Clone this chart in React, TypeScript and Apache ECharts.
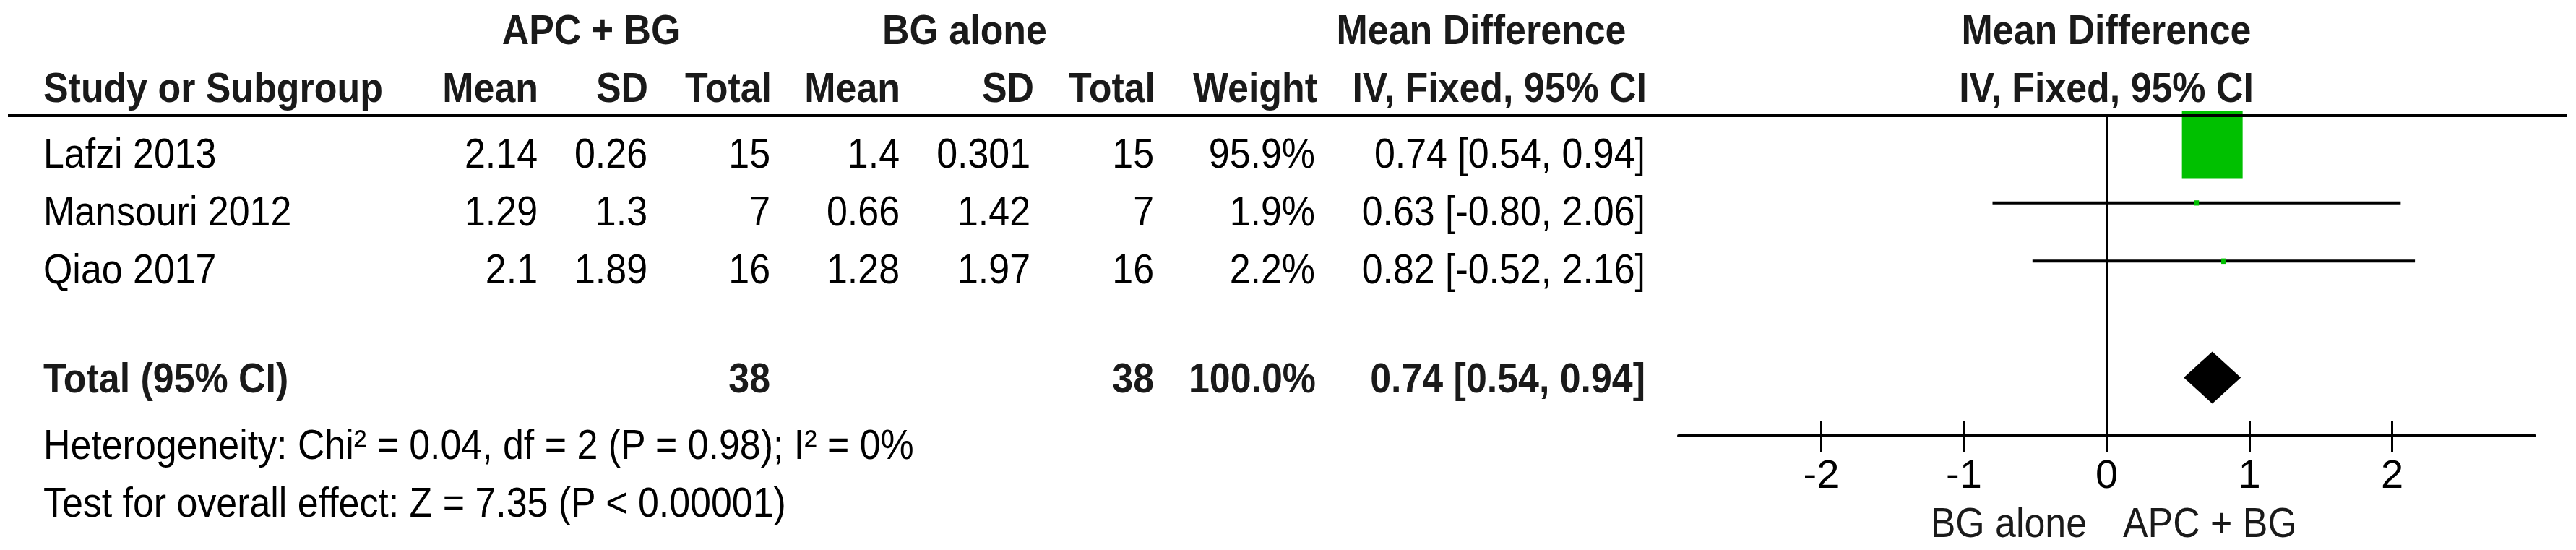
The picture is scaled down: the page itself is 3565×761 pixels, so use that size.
import React, { useEffect, useRef } from "react";
import * as echarts from "echarts";

// ---- data ----
const studies = ["Lafzi 2013", "Mansouri 2012", "Qiao 2017"];
const expMean = [2.14, 1.29, 2.1];
const expSD = [0.26, 1.3, 1.89];
const expTotal = [15, 7, 16];
const ctrlMean = [1.4, 0.66, 1.28];
const ctrlSD = [0.301, 1.42, 1.97];
const ctrlTotal = [15, 7, 16];
const weights = [95.9, 1.9, 2.2];
const meanDiff = [0.74, 0.63, 0.82];
const ciLow = [0.54, -0.8, -0.52];
const ciHigh = [0.94, 2.06, 2.16];

const totalLabel = "Total (95% CI)";
const totalExp = 38;
const totalCtrl = 38;
const totalWeight = 100.0;
const totalMD = 0.74;
const totalLow = 0.54;
const totalHigh = 0.94;

const heterogeneityText = "Heterogeneity: Chi\u00b2 = 0.04, df = 2 (P = 0.98); I\u00b2 = 0%";
const overallText = "Test for overall effect: Z = 7.35 (P < 0.00001)";

const groupHeaders = ["APC + BG", "BG alone", "Mean Difference", "Mean Difference"];
const colHeaders = ["Study or Subgroup", "Mean", "SD", "Total", "Mean", "SD", "Total", "Weight", "IV, Fixed, 95% CI", "IV, Fixed, 95% CI"];
const xTicks = [-2, -1, 0, 1, 2];
const favoursLeft = "BG alone";
const favoursRight = "APC + BG";

// ---- layout ----
const FONT = "'Liberation Sans', Arial, sans-serif";
const FS = 58;
const SX = 0.895;
const GRID_LEFT = 2323;
const GRID_WIDTH = 1185;
const GRID_TOP = 160;
const GRID_HEIGHT = 443;
const Y_MAX = 5.5;

const fmtCI = (m: number, lo: number, hi: number) => `${m.toFixed(2)} [${lo.toFixed(2)}, ${hi.toFixed(2)}]`;

function txt(text: string, x: number, y: number, align: string, bold = false, color = "#000") {
  return {
    type: "text",
    x,
    y,
    scaleX: SX,
    silent: true,
    style: {
      text,
      fontSize: FS,
      fontFamily: FONT,
      fontWeight: bold ? "bold" : "normal",
      fill: color,
      align,
      textAlign: align,
      verticalAlign: "middle",
      textVerticalAlign: "middle",
    },
  };
}

export default function App() {
  const ref = useRef<HTMLDivElement>(null);

  useEffect(() => {
    if (!ref.current) return;
    const chart = echarts.init(ref.current, undefined, { renderer: "svg" });

    const HC = "#1a1a1a";
    const g: any[] = [];
    // group headers
    const h1y = 41;
    g.push(txt(groupHeaders[0], 818, h1y, "center", true, HC));
    g.push(txt(groupHeaders[1], 1335, h1y, "center", true, HC));
    g.push(txt(groupHeaders[2], 2050, h1y, "center", true, HC));
    g.push(txt(groupHeaders[3], 2915, h1y, "center", true, HC));
    // column headers
    const h2y = 121;
    const colX = [60, 745, 897, 1068, 1246, 1431, 1599, 1823, 2279, 2915];
    const colAlign = ["left", "right", "right", "right", "right", "right", "right", "right", "right", "center"];
    colHeaders.forEach((h, i) => g.push(txt(h, colX[i], h2y, colAlign[i], true, HC)));

    // data rows
    const valX = [744, 896, 1066, 1245, 1426, 1597, 1820, 2277];
    const rowY = [212, 292, 372];
    studies.forEach((s, i) => {
      const y = rowY[i];
      g.push(txt(s, 60, y, "left"));
      const vals = [
        String(expMean[i]),
        String(expSD[i]),
        String(expTotal[i]),
        String(ctrlMean[i]),
        String(ctrlSD[i]),
        String(ctrlTotal[i]),
        weights[i].toFixed(1) + "%",
        fmtCI(meanDiff[i], ciLow[i], ciHigh[i]),
      ];
      vals.forEach((v, j) => g.push(txt(v, valX[j], y, "right")));
    });

    // total row
    const ty = 523;
    g.push(txt(totalLabel, 60, ty, "left", true, HC));
    g.push(txt(String(totalExp), valX[2], ty, "right", true, HC));
    g.push(txt(String(totalCtrl), valX[5], ty, "right", true, HC));
    g.push(txt(totalWeight.toFixed(1) + "%", 1821, ty, "right", true, HC));
    g.push(txt(fmtCI(totalMD, totalLow, totalHigh), valX[7], ty, "right", true, HC));

    // footer
    g.push(txt(heterogeneityText, 60, 615, "left"));
    g.push(txt(overallText, 60, 695, "left"));

    // favours labels
    g.push(txt(favoursLeft, 2888, 723, "right", false, HC));
    g.push(txt(favoursRight, 2938, 723, "left", false, HC));

    // top rule
    g.push({
      type: "line",
      z: 100,
      silent: true,
      shape: { x1: 11, y1: 160, x2: 3552, y2: 160 },
      style: { stroke: "#000", lineWidth: 4 },
    });

    const maxW = Math.max(...weights);
    const studyData = studies.map((_, i) => [meanDiff[i], ciLow[i], ciHigh[i], i + 0.5, weights[i]]);
    const totalData = [[totalMD, totalLow, totalHigh, studies.length + 1.5]];

    const axisCommon = {
      type: "value",
      min: -3,
      max: 3,
      interval: 1,
      position: "bottom",
      gridIndex: 0,
      splitLine: { show: false },
    };

    chart.setOption({
      animation: false,
      backgroundColor: "#fff",
      grid: { left: GRID_LEFT, top: GRID_TOP, width: GRID_WIDTH, height: GRID_HEIGHT, containLabel: false },
      xAxis: [
        {
          ...axisCommon,
          axisLine: { show: true, onZero: false, lineStyle: { color: "#000", width: 4 } },
          axisTick: { show: true, inside: false, length: 23, lineStyle: { color: "#000", width: 3 }, customValues: xTicks },
          axisLabel: {
            show: true,
            customValues: xTicks,
            fontSize: 56,
            fontFamily: FONT,
            color: "#000",
            margin: 24,
          },
        },
        {
          ...axisCommon,
          axisLine: { show: false, onZero: false },
          axisTick: { show: true, inside: true, length: 21, lineStyle: { color: "#000", width: 3 }, customValues: xTicks },
          axisLabel: { show: false },
        },
      ],
      yAxis: { type: "value", min: 0, max: Y_MAX, inverse: true, show: false },
      graphic: g,
      series: [
        {
          type: "custom",
          name: "studies",
          xAxisIndex: 0,
          yAxisIndex: 0,
          silent: true,
          data: studyData,
          renderItem: (params: any, api: any) => {
            const m = api.value(0);
            const lo = api.value(1);
            const hi = api.value(2);
            const y = api.value(3);
            const w = api.value(4);
            const pLo = api.coord([lo, y]);
            const pHi = api.coord([hi, y]);
            const pM = api.coord([m, y]);
            const size = 5 + (79 * w) / maxW;
            const hgt = size * 1.1;
            return {
              type: "group",
              children: [
                {
                  type: "line",
                  shape: { x1: pLo[0], y1: pLo[1], x2: pHi[0], y2: pHi[1] },
                  style: { stroke: "#000", lineWidth: 4 },
                },
                {
                  type: "rect",
                  shape: { x: pM[0] - size / 2, y: pM[1] - hgt / 2, width: size, height: hgt },
                  style: { fill: "#00c000" },
                },
              ],
            };
          },
          markLine: {
            silent: true,
            symbol: ["none", "none"],
            label: { show: false },
            lineStyle: { color: "#000", width: 2, type: "solid" },
            data: [{ xAxis: 0 }],
            z: 1,
          },
        },
        {
          type: "custom",
          name: "total",
          xAxisIndex: 0,
          yAxisIndex: 0,
          silent: true,
          data: totalData,
          renderItem: (params: any, api: any) => {
            const m = api.value(0);
            const lo = api.value(1);
            const hi = api.value(2);
            const y = api.value(3);
            const pLo = api.coord([lo, y]);
            const pHi = api.coord([hi, y]);
            const pM = api.coord([m, y]);
            const hh = 36;
            return {
              type: "polygon",
              shape: {
                points: [
                  [pLo[0], pM[1]],
                  [pM[0], pM[1] - hh],
                  [pHi[0], pM[1]],
                  [pM[0], pM[1] + hh],
                ],
              },
              style: { fill: "#000" },
            };
          },
        },
      ],
    });

    return () => chart.dispose();
  }, []);

  return (
    <div
      ref={ref}
      style={{ position: "fixed", left: 0, top: 0, width: 3565, height: 761, background: "#fff" }}
    />
  );
}
